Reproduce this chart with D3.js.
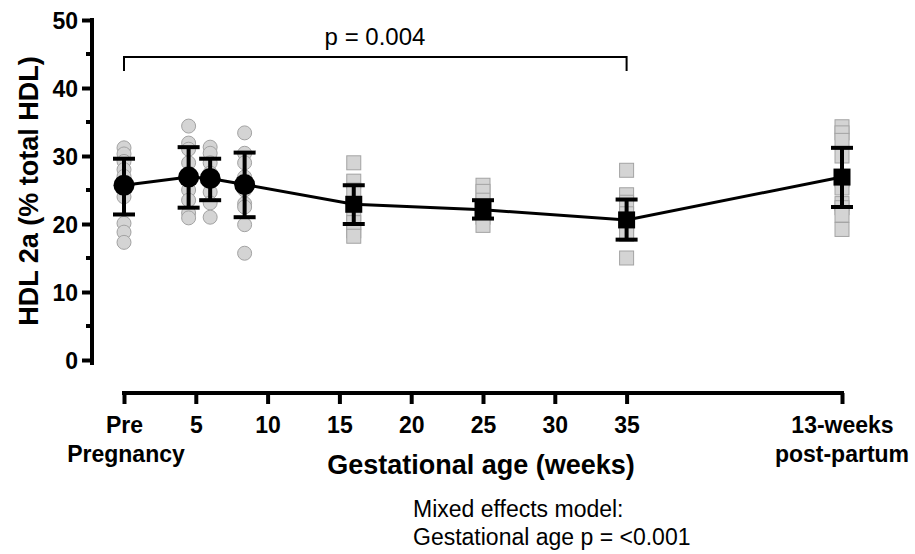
<!DOCTYPE html>
<html>
<head>
<meta charset="utf-8">
<script src="https://cdn.jsdelivr.net/npm/d3@7"></script>
<style>
  body { margin: 0; background: #fff; }
  text { font-family: "Liberation Sans", Arial, sans-serif; fill: #000; }
</style>
</head>
<body>
<script>
// week positions (post-partum drawn at 50 on the same scale)
const weeks = [0, 4.5, 6, 8.4, 16, 25, 35, 50];
const shapes = ["circle", "circle", "circle", "circle", "square", "square", "square", "square"];
const means = [25.7, 26.9, 26.7, 25.8, 22.9, 22.1, 20.6, 26.9];
const sdLow = [21.4, 22.4, 23.5, 21.0, 20.0, 20.8, 17.7, 22.5];
const sdHigh = [29.6, 31.3, 29.6, 30.5, 25.7, 23.5, 23.6, 31.2];
const points = [
  [31.2, 30.3, 29.2, 28.0, 27.0, 25.5, 24.0, 20.1, 18.8, 17.3],
  [34.4, 31.9, 31.0, 29.0, 27.5, 25.0, 23.5, 21.6, 20.9],
  [31.3, 30.4, 29.0, 27.5, 26.0, 24.7, 23.1, 21.0],
  [33.4, 30.4, 29.0, 26.9, 25.0, 23.0, 22.5, 19.9, 15.7],
  [29.0, 26.3, 25.0, 23.0, 21.5, 20.2, 19.0, 18.2],
  [25.7, 24.8, 23.5, 22.0, 21.0, 19.8],
  [27.9, 24.3, 23.2, 21.5, 20.0, 19.0, 18.5, 15.0],
  [34.3, 33.4, 32.3, 30.0, 26.5, 25.3, 23.0, 22.4, 21.3, 19.2]
];
const xTicks = [0, 5, 10, 15, 20, 25, 30, 35, 50];
const xTickLabels = ["Pre", "5", "10", "15", "20", "25", "30", "35", "13-weeks"];
const yTicks = [0, 10, 20, 30, 40, 50];

const svg = d3.select("body").append("svg").attr("width", 915).attr("height", 554);

const x = d3.scaleLinear().domain([0, 50]).range([124, 842]);
const y = d3.scaleLinear().domain([0, 50]).range([360, 20]);

// y axis
const yAxis = svg.append("g").attr("transform", "translate(92,0)")
  .call(d3.axisLeft(y).tickValues(yTicks).tickSize(10).tickSizeOuter(0).tickPadding(4));
yAxis.select(".domain").attr("stroke-width", 4).attr("d", "M0," + (y(50) - 2) + "V" + (y(0) + 5));
yAxis.selectAll(".tick line").attr("stroke-width", 4);
yAxis.selectAll(".tick text").attr("font-size", 23).attr("font-weight", "bold").attr("dy", "0.36em");
yAxis.selectAll(".minor").data(d3.range(5, 50, 10)).enter().append("line")
  .attr("x1", -6).attr("x2", 0).attr("y1", d => y(d)).attr("y2", d => y(d))
  .attr("stroke", "#000").attr("stroke-width", 4);

// x axis
const xAxis = svg.append("g").attr("transform", "translate(0,393)")
  .call(d3.axisBottom(x).tickValues(xTicks).tickSize(11).tickSizeOuter(0)
    .tickFormat((d, i) => xTickLabels[i]).tickPadding(0));
xAxis.select(".domain").attr("stroke-width", 4).attr("d", "M" + (x(0) - 2) + ",0H" + (x(50) + 2));
xAxis.selectAll(".tick line").attr("stroke-width", 4);
xAxis.selectAll(".tick text").attr("font-size", 23).attr("font-weight", "bold")
  .attr("y", 40).attr("dy", 0);
svg.append("text").attr("x", 126).attr("y", 462).attr("text-anchor", "middle")
  .attr("font-size", 23).attr("font-weight", "bold").text("Pregnancy");
svg.append("text").attr("x", x(50)).attr("y", 462).attr("text-anchor", "middle")
  .attr("font-size", 23).attr("font-weight", "bold").text("post-partum");

svg.append("text").attr("x", 481).attr("y", 474).attr("text-anchor", "middle")
  .attr("font-size", 27).attr("font-weight", "bold").text("Gestational age (weeks)");
svg.append("text").attr("transform", "translate(38,191) rotate(-90)").attr("text-anchor", "middle")
  .attr("font-size", 27).attr("font-weight", "bold").text("HDL 2a (% total HDL)");

// individual points
const pts = [];
points.forEach((arr, i) => arr.forEach(v => pts.push({ w: weeks[i], v: v, s: shapes[i] })));
svg.selectAll(".pc").data(pts.filter(d => d.s === "circle")).enter().append("circle")
  .attr("cx", d => x(d.w)).attr("cy", d => y(d.v)).attr("r", 7)
  .attr("fill", "#d4d4d4").attr("stroke", "#a3a3a3").attr("stroke-width", 1);
svg.selectAll(".ps").data(pts.filter(d => d.s === "square")).enter().append("rect")
  .attr("x", d => x(d.w) - 7).attr("y", d => y(d.v) - 7).attr("width", 14).attr("height", 14)
  .attr("fill", "#d4d4d4").attr("stroke", "#a3a3a3").attr("stroke-width", 1);

// mean line
const idx = d3.range(means.length);
svg.append("path").datum(idx)
  .attr("d", d3.line().x(i => x(weeks[i])).y(i => y(means[i])))
  .attr("fill", "none").attr("stroke", "#000").attr("stroke-width", 3);

// error bars
const eb = svg.selectAll(".eb").data(idx).enter().append("g");
eb.append("line").attr("x1", i => x(weeks[i])).attr("x2", i => x(weeks[i]))
  .attr("y1", i => y(sdLow[i])).attr("y2", i => y(sdHigh[i]))
  .attr("stroke", "#000").attr("stroke-width", 4);
eb.append("line").attr("x1", i => x(weeks[i]) - 11).attr("x2", i => x(weeks[i]) + 11)
  .attr("y1", i => y(sdLow[i])).attr("y2", i => y(sdLow[i]))
  .attr("stroke", "#000").attr("stroke-width", 4);
eb.append("line").attr("x1", i => x(weeks[i]) - 11).attr("x2", i => x(weeks[i]) + 11)
  .attr("y1", i => y(sdHigh[i])).attr("y2", i => y(sdHigh[i]))
  .attr("stroke", "#000").attr("stroke-width", 4);

// mean markers
svg.selectAll(".mc").data(idx.filter(i => shapes[i] === "circle")).enter().append("circle")
  .attr("cx", i => x(weeks[i])).attr("cy", i => y(means[i])).attr("r", 10.5).attr("fill", "#000");
svg.selectAll(".ms").data(idx.filter(i => shapes[i] === "square")).enter().append("rect")
  .attr("x", i => x(weeks[i]) - 8.5).attr("y", i => y(means[i]) - 8.5)
  .attr("width", 17).attr("height", 17).attr("fill", "#000");

// significance bracket
svg.append("path")
  .attr("d", "M" + x(0) + ",71V57H" + x(35) + "V71")
  .attr("fill", "none").attr("stroke", "#000").attr("stroke-width", 2);
svg.append("text").attr("x", 375).attr("y", 45).attr("text-anchor", "middle")
  .attr("font-size", 24).text("p = 0.004");

// model note
svg.append("text").attr("x", 413).attr("y", 517).attr("font-size", 23).text("Mixed effects model:");
svg.append("text").attr("x", 413).attr("y", 545).attr("font-size", 23).text("Gestational age p = <0.001");
</script>
</body>
</html>
